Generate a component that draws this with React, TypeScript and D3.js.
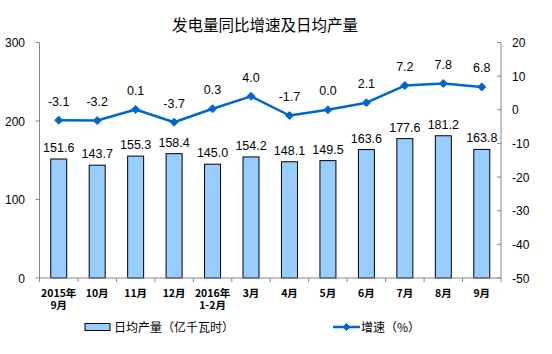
import React from "react";
import * as d3 from "d3";

const categories: string[][] = [
  ["2015年", "9月"], ["10月"], ["11月"], ["12月"], ["2016年", "1-2月"],
  ["3月"], ["4月"], ["5月"], ["6月"], ["7月"], ["8月"], ["9月"],
];
const dailyOutput = [151.6, 143.7, 155.3, 158.4, 145.0, 154.2, 148.1, 149.5, 163.6, 177.6, 181.2, 163.8];
const growth = [-3.1, -3.2, 0.1, -3.7, 0.3, 4.0, -1.7, 0.0, 2.1, 7.2, 7.8, 6.8];
const leftTicks = [0, 100, 200, 300];
const rightTicks = [20, 10, 0, -10, -20, -30, -40, -50];
const title = "发电量同比增速及日均产量";
const legendBar = "日均产量（亿千瓦时）";
const legendLine = "增速（%）";

const W = 552, H = 354;
const X0 = 39.5, X1 = 501, Y0 = 278, Y1 = 42.5;
const NUM_FONT = "'Liberation Sans', Arial, sans-serif";
const CJK_FONT = "'Noto Sans CJK SC', sans-serif";
const AXIS = "#868686";
const BAR = "#99CCFF";
const LINE = "#0066CC";

export default function App() {
  const x = d3.scaleBand<number>().domain(d3.range(categories.length)).range([X0, X1]).paddingInner(0).paddingOuter(0);
  const yL = d3.scaleLinear().domain([0, 300]).range([Y0, Y1]);
  const yR = d3.scaleLinear().domain([-50, 20]).range([Y0, Y1]);
  const bw = 16;
  const cx = (i: number) => (x(i) as number) + x.bandwidth() / 2;
  const line = d3.line<number>().x((_, i) => cx(i)).y((d) => yR(d));
  const diamond = (px: number, py: number, r = 4) =>
    `M${px},${py - r}L${px + r},${py}L${px},${py + r}L${px - r},${py}Z`;

  return (
    <svg width={W} height={H} style={{ position: "absolute", left: 0, top: 0, background: "#fff" }}>
      <text x={265} y={31} textAnchor="middle" fontFamily={CJK_FONT} fontSize={15.5} fill="#000">{title}</text>

      {/* bars */}
      {dailyOutput.map((v, i) => (
        <rect key={i} x={cx(i) - bw / 2} y={yL(v)} width={bw} height={Y0 - yL(v)} fill={BAR} stroke="#000" strokeWidth={1} />
      ))}
      {dailyOutput.map((v, i) => (
        <text key={"bl" + i} x={cx(i)} y={yL(v) - 7} textAnchor="middle" fontFamily={NUM_FONT} fontSize={12.5} fill="#000">{v.toFixed(1)}</text>
      ))}

      {/* axes */}
      <line x1={X0} x2={X0} y1={Y1} y2={Y0} stroke={AXIS} />
      <line x1={X1} x2={X1} y1={Y1} y2={Y0} stroke={AXIS} />
      <line x1={X0} x2={X1} y1={Y0} y2={Y0} stroke={AXIS} />
      {leftTicks.map((t) => (
        <g key={"lt" + t}>
          <line x1={X0 - 4} x2={X0} y1={yL(t)} y2={yL(t)} stroke={AXIS} />
          <text x={25} y={yL(t) + 4.5} textAnchor="end" fontFamily={NUM_FONT} fontSize={12} fill="#000">{t}</text>
        </g>
      ))}
      {rightTicks.map((t) => (
        <g key={"rt" + t}>
          <line x1={X1 - 4} x2={X1} y1={yR(t)} y2={yR(t)} stroke={AXIS} />
          <text x={512} y={yR(t) + 4.5} textAnchor="start" fontFamily={NUM_FONT} fontSize={12} fill="#000">{t}</text>
        </g>
      ))}
      {d3.range(categories.length + 1).map((i) => {
        const px = X0 + i * x.bandwidth();
        return <line key={"xt" + i} x1={px} x2={px} y1={Y0} y2={Y0 + 4} stroke={AXIS} />;
      })}
      {categories.map((c, i) =>
        c.map((s, j) => (
          <text key={"xl" + i + "_" + j} x={cx(i)} y={296.5 + j * 12.5} textAnchor="middle" fontFamily={CJK_FONT} fontSize={10.5} fontWeight="bold" fill="#000">{s}</text>
        ))
      )}

      {/* line */}
      <path d={line(growth) || ""} fill="none" stroke={LINE} strokeWidth={2.5} strokeLinejoin="round" />
      {growth.map((v, i) => (
        <path key={"m" + i} d={diamond(cx(i), yR(v))} fill={LINE} stroke={LINE} />
      ))}
      {growth.map((v, i) => (
        <text key={"gl" + i} x={cx(i)} y={yR(v) - 14.5} textAnchor="middle" fontFamily={NUM_FONT} fontSize={12.5} fill="#000">{v.toFixed(1)}</text>
      ))}

      {/* legend */}
      <rect x={85} y={323.5} width={25} height={7} fill={BAR} stroke="#000" />
      <text x={114} y={331.5} fontFamily={CJK_FONT} fontSize={12} fill="#000">{legendBar}</text>
      <line x1={333} x2={360} y1={327} y2={327} stroke={LINE} strokeWidth={2.5} />
      <path d={diamond(346.5, 327, 3.5)} fill={LINE} stroke={LINE} />
      <text x={361} y={331.5} fontFamily={CJK_FONT} fontSize={12} fill="#000">{legendLine}</text>
    </svg>
  );
}
